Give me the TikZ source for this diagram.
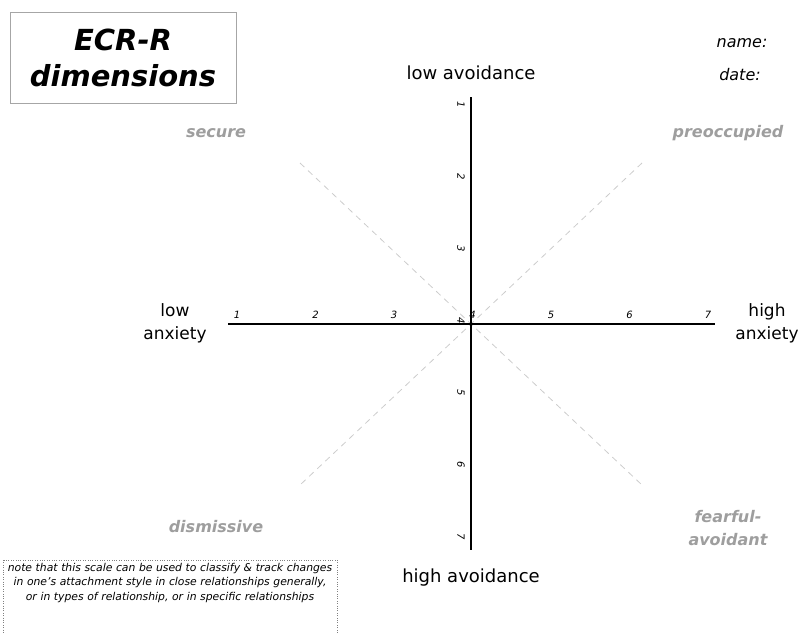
\documentclass[tikz,border=0pt]{standalone}
\usepackage{fontspec}
\setmainfont{DejaVu Sans}
\usetikzlibrary{positioning}
\tikzset{
axis/.style={line width=2.8pt, black},
diag/.style={gray!40, dash pattern=on 6pt off 5pt, line width=0.8pt},
tick/.style={font=\fontsize{10}{11}\selectfont\itshape, inner sep=0},
pole/.style={font=\fontsize{17}{23}\selectfont, align=center, inner sep=0},
quadrant/.style={font=\fontsize{16}{23}\selectfont\bfseries\itshape, text=black!38, align=center, inner sep=0},
meta/.style={font=\fontsize{16}{20}\selectfont\itshape, inner sep=0}}

\begin{document}
\begin{tikzpicture}[x=1pt, y=-1pt]
\useasboundingbox (0,0) rectangle (800,633);

% ends of the two scales
\coordinate (o) at (471,324);
\coordinate (w) at (228,324);
\coordinate (e) at (715,324);
\coordinate (n) at (471,97);
\coordinate (s) at (471,550);
\coordinate (nw) at (300,163);
\coordinate (ne) at (642,163);
\coordinate (sw) at (300,485);
\coordinate (se) at (642,485);

\draw [diag] (nw) -- (se);
\draw [diag] (ne) -- (sw);
\draw [axis] (w) -- (e);
\draw [axis] (n) -- (s);

\foreach \t [count=\i from 0] in {1,...,7}{
      \node [tick] (anx-\t) at (237+78.5*\i, 315) {\t};
      \node [tick, rotate=-90] (avo-\t) at (461, 105+72*\i) {\t};
}

\node [pole, font=\fontsize{18}{23}\selectfont] (lowavo) at (471,73) {low avoidance};
\node [pole, font=\fontsize{18}{23}\selectfont] (highavo) at (471,578) {high avoidance};
\node [pole] (lowanx) at (175,323) {low\\anxiety};
\node [pole] (highanx) at (767,323) {high\\anxiety};

\node [quadrant] (secure) at (216,133) {secure};
\node [quadrant] (preocc) at (728,133) {preoccupied};
\node [quadrant] (dismiss) at (216,527) {dismissive};
\node [quadrant] (fearful) at (728,528) {fearful-\\avoidant};

\node [draw=gray!70, line width=0.8pt, minimum width=226pt, minimum height=91pt, align=center,
      font=\fontsize{29}{36}\selectfont\bfseries\itshape] (title) at (123,57.5) {ECR-R\\dimensions};

\node [meta] (name) at (742,43) {name:};
\node [meta] (date) at (740,75) {date:};

% note box runs off the foot of the page
\node [anchor=north, text width=334pt, inner xsep=0pt, inner ysep=3pt, align=center,
      font=\fontsize{10.8}{14.5}\selectfont\itshape] (note) at (170,560)
      {note that this scale can be used to classify \& track changes\\
       in one's attachment style in close relationships generally,\\
       or in types of relationship, or in specific relationships};
\draw [gray, dotted] (note.north west) rectangle (note.east |- 0,645);
\end{tikzpicture}
\end{document}
